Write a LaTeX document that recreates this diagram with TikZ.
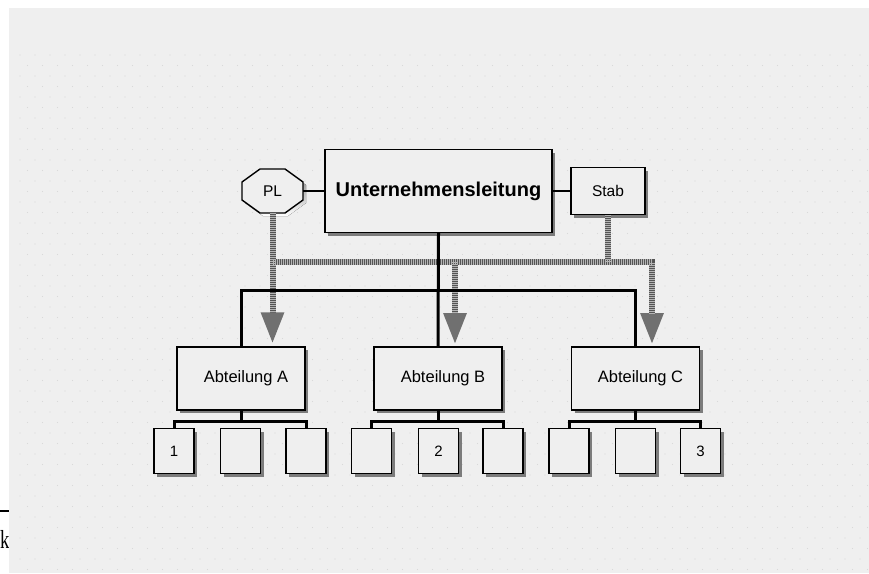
\documentclass[tikz,border=0pt]{standalone}
\usepackage{fontspec}
\setmainfont{Liberation Sans}
\newfontfamily\serifface{Liberation Serif}
\usetikzlibrary{shadows,arrows.meta}
\definecolor{panel}{HTML}{EFEFEF}
\definecolor{grain}{HTML}{D9D9D9}
\definecolor{shade}{HTML}{7C7C7C}
\definecolor{hatchdark}{HTML}{545454}
\definecolor{hatchlight}{HTML}{B4B4B4}
\definecolor{tipgray}{HTML}{707070}
\begin{document}
\begin{tikzpicture}[x=1pt,y=-1pt,
  unitbox/.style={draw=black, line width=1.4pt, fill=panel, inner sep=0pt,
    general shadow={fill=shade, shadow xshift=3pt, shadow yshift=-3pt}},
  dept/.style={unitbox, minimum width=128pt, minimum height=63pt,
    font=\fontsize{16.5}{18}\selectfont},
  leaf/.style={unitbox, minimum width=40pt, minimum height=45pt,
    font=\fontsize{15}{16}\selectfont},
  tree/.style={line width=3pt, black},
  hatch/.style={line width=6pt, hatchdark},
  hatchtip/.style={-{Triangle[width=22pt,length=31pt,color=tipgray]}, shorten >=3pt},
  hatchover/.style={line width=6pt, hatchlight, dash pattern=on 1pt off 1pt},
]
\useasboundingbox (0,0) rectangle (869,573);
\fill[white] (0,0) rectangle (869,573);

% page margin with a stray rule and letter
\node[font=\serifface\fontsize{26}{28}\selectfont, anchor=base west, inner sep=0pt,
  xscale=0.72] (kk) at (0,548) {k};
\draw[line width=1.2pt] (0,511) -- (12,511);

% drawing sheet with faint grain
\fill[panel] (9,8) rectangle (869,573);
\foreach \r in {0,...,49}{
  \foreach \c in {0,...,56}{
    \fill[grain] ({20+15*\c+7.5*mod(\r,2)},{55+10.5*\r}) circle (0.7pt);
  }
}

% top management, staff and project lead
\node[unitbox, minimum width=227pt, minimum height=83pt,
  font=\bfseries\fontsize{20}{22}\selectfont] (UL) at (438.5,191) {Unternehmensleitung};
\node[unitbox, minimum width=74pt, minimum height=47pt,
  font=\fontsize{15.5}{16}\selectfont] (Stab) at (608,191) {Stab};

\fill[shade] (263,172) -- (288,172) -- (306,185) -- (306,203) -- (288,216)
  -- (263,216) -- (245,203) -- (245,185) -- cycle;
\filldraw[fill=panel, draw=black, line width=1.4pt] (260,169) -- (285,169) -- (303,182)
  -- (303,200) -- (285,213) -- (260,213) -- (242,200) -- (242,182) -- cycle;
\node[minimum width=61pt, minimum height=44pt, inner sep=0pt,
  font=\fontsize{15.5}{16}\selectfont] (PL) at (272.5,191) {PL};

% departments
\node[dept] (A) at (241,378.5) {\hspace*{10pt}Abteilung A};
\node[dept] (B) at (438,378.5) {\hspace*{10pt}Abteilung B};
\node[dept] (C) at (635.5,378.5) {\hspace*{10pt}Abteilung C};

% units below the departments
\node[leaf] (a1) at (174,451) {1};
\node[leaf] (a2) at (240.5,451) {};
\node[leaf] (a3) at (306,451) {};
\node[leaf] (b1) at (371.5,451) {};
\node[leaf] (b2) at (438.5,451) {2};
\node[leaf] (b3) at (503,451) {};
\node[leaf] (c1) at (569,451) {};
\node[leaf] (c2) at (635.5,451) {};
\node[leaf] (c3) at (700.5,451) {3};

\coordinate (gbus) at (0,262);
\coordinate (tbus) at (0,290);
\coordinate (lbus) at (0,421);
\coordinate (tipB) at (455,347);
\coordinate (tipC) at (652,347);

% project and staff channels (gray, dithered)
\draw[hatch] (Stab.south) -- (Stab.south |- gbus);
\draw[hatch, hatchtip] (PL.south) -- (PL.south |- A.north);
\draw[hatch, hatchtip] (PL.south |- gbus) -| (tipC);
\draw[hatch, hatchtip] (tipB |- gbus) -- (tipB);
\draw[hatchover] (Stab.south) -- (Stab.south |- gbus);
\draw[hatchover, shorten >=34pt] (PL.south) -- (PL.south |- A.north);
\draw[hatchover, shorten >=34pt] (PL.south |- gbus) -| (tipC);
\draw[hatchover, shorten >=34pt] (tipB |- gbus) -- (tipB);

% line organisation
\draw[line width=2.4pt] (PL.east) -- (UL.west);
\draw[line width=2.4pt] (UL.east) -- (Stab.west);
\draw[tree] (UL.south) -- (B.north);
\draw[tree] (A.north) |- (C.north |- tbus) -- (C.north);

\foreach \d/\l/\r in {A/a1/a3, B/b1/b3, C/c1/c3}{
  \draw[tree] (\d.south) -- (\d.south |- lbus);
  \draw[tree] (\l.north) |- (\r.north |- lbus) -- (\r.north);
}
\end{tikzpicture}
\end{document}
